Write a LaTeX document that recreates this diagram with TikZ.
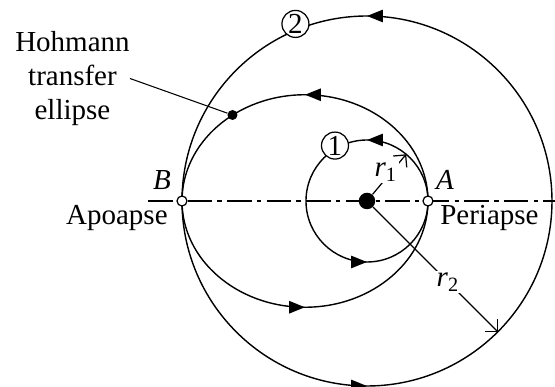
\documentclass[tikz,border=0pt]{standalone}
\usepackage{fontspec}
\setmainfont{Liberation Serif}
\usepackage{tikz}
\usetikzlibrary{arrows.meta,decorations.markings}

\begin{document}
\begin{tikzpicture}[
  font=\fontsize{16.5}{19.6}\selectfont,
  orbit/.style={line width=0.8pt, postaction={decorate}, decoration={markings,
      mark=at position 0.25 with {\arrow{Triangle[length=9pt,width=7pt]}},
      mark=at position 0.75 with {\arrow{Triangle[length=9pt,width=7pt]}}}},
  axisline/.style={line width=0.7pt, dash pattern=on 14pt off 3pt on 2.5pt off 3pt},
  apsis/.style={circle, draw, fill=white, line width=0.7pt, inner sep=0pt, minimum size=0.2cm},
  tag/.style={circle, draw, fill=white, line width=0.7pt, inner sep=0pt, minimum size=0.54cm},
  blob/.style={circle, fill=black, inner sep=0pt},
  radline/.style={line width=0.7pt, -{Straight Barb[length=5pt]}},
  txt/.style={inner sep=0pt},
  rlab/.style={fill=white, inner sep=1pt},
]
\useasboundingbox (-7.34,-3.72) rectangle (3.76,4.02);

% line of apsides
\coordinate (axisL) at (-4.38,0);
\coordinate (axisR) at (3.76,0);
\draw[axisline] (axisL) -- (axisR);

% orbits 1 and 2, transfer ellipse (counterclockwise)
\draw[orbit] (0,0) circle[radius=1.22];
\draw[orbit] (-1.24,0) circle[x radius=2.46, y radius=2.125];
\draw[orbit] (0,0) circle[radius=3.70];

\node[tag] (one) at (120:1.28) {1};
\node[tag] (two) at (112:3.82) {2};

% central body, apoapse and periapse
\node[blob, minimum size=0.33cm] (sun) at (0,0) {};
\node[apsis] (A) at (1.22,0) {};
\node[apsis] (B) at (-3.70,0) {};

\node[txt, anchor=base] (Alab) at (1.56, 0.22) {\textit{A}};
\node[txt, anchor=base] (Blab) at (-4.10, 0.22) {\textit{B}};
\node[txt, anchor=base west] (peri) at (1.46, -0.48) {Periapse};
\node[txt, anchor=base east] (apo) at (-3.98, -0.48) {Apoapse};

% radii
\coordinate (r1tip) at (50:1.22);
\coordinate (r2tip) at (-45:3.70);
\draw[radline] (sun) -- node[rlab, pos=0.55, xshift=-3pt] {\textit{r}\textsubscript{1}} (r1tip);
\draw[radline] (sun) -- node[rlab, pos=0.6] {\textit{r}\textsubscript{2}} (r2tip);

% label for the transfer ellipse
\node[blob, minimum size=0.2cm] (hohdot) at (-2.69, 1.72) {};
\node[txt, align=center, anchor=east] (hohlabel) at (-4.74, 2.45) {Hohmann\\transfer\\ellipse};
\draw[line width=0.6pt] (hohlabel.east) -- (hohdot);

\end{tikzpicture}
\end{document}
